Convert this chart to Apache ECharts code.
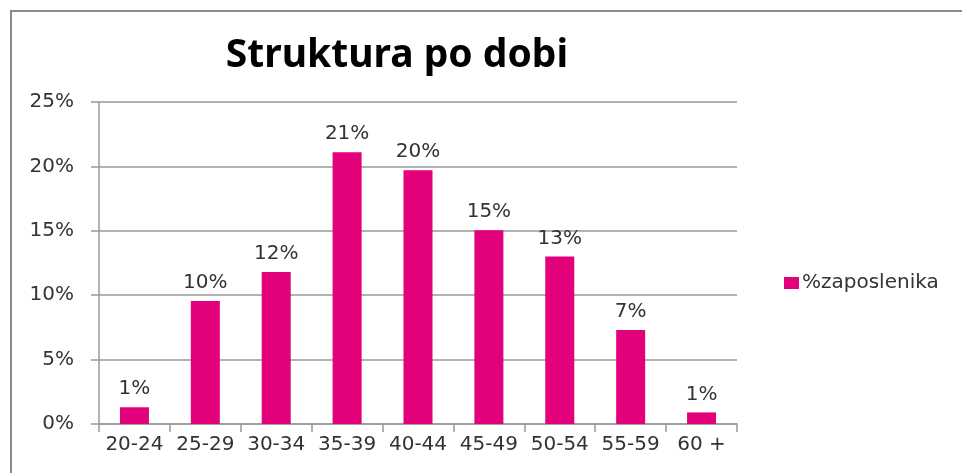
<!DOCTYPE html>
<html>
<head>
<meta charset="utf-8">
<script src="https://cdn.jsdelivr.net/npm/echarts@6/dist/echarts.min.js"></script>
<style>
  html, body { margin: 0; padding: 0; background: #fff; }
  #chart { width: 962px; height: 473px; }
</style>
</head>
<body>
<div id="chart"></div>
<script>
const categories = ['20-24', '25-29', '30-34', '35-39', '40-44', '45-49', '50-54', '55-59', '60 +'];
const shares = [1.3, 9.55, 11.8, 21.1, 19.7, 15.05, 13.0, 7.3, 0.9];
const seriesName = '%zaposlenika';
const title = 'Struktura po dobi';

const chart = echarts.init(document.getElementById('chart'));
const labelFont = 'DejaVu Sans, Verdana, sans-serif';

chart.setOption({
  animation: false,
  backgroundColor: '#fff',
  title: {
    text: title,
    left: 392,
    top: 31,
    textAlign: 'center',
    textStyle: { fontFamily: 'Noto Sans, sans-serif', fontWeight: 'bold', fontSize: 39, color: '#000' }
  },
  graphic: [{
    type: 'rect',
    shape: { x: 11, y: 11, width: 980, height: 500 },
    style: { fill: 'none', stroke: '#8a8a8a', lineWidth: 2 },
    silent: true
  }],
  legend: {
    left: 779,
    top: 268,
    icon: 'rect',
    itemWidth: 15,
    itemHeight: 12,
    itemGap: 6,
    data: [seriesName],
    textStyle: { fontFamily: labelFont, fontSize: 20, color: '#333', padding: [0, 0, 0, -2] }
  },
  grid: { left: 99, right: 225, top: 102, bottom: 49, outerBoundsMode: 'none' },
  xAxis: {
    type: 'category',
    data: categories,
    axisLine: { lineStyle: { color: '#999', width: 1.5 } },
    axisTick: { show: true, length: 8, lineStyle: { color: '#999', width: 1.5 } },
    axisLabel: { interval: 0, hideOverlap: false, fontFamily: labelFont, fontSize: 20, color: '#333', margin: 11 }
  },
  yAxis: {
    type: 'value',
    min: 0,
    max: 25,
    interval: 5,
    axisLine: { show: true, lineStyle: { color: '#999', width: 1.5 } },
    axisTick: { show: true, length: 8, lineStyle: { color: '#999', width: 1.5 } },
    splitLine: { lineStyle: { color: '#999', width: 1.5 } },
    axisLabel: { fontFamily: labelFont, fontSize: 20, color: '#333', margin: 25, formatter: '{value}%' }
  },
  series: [{
    name: seriesName,
    type: 'bar',
    data: shares,
    barWidth: 29,
    itemStyle: { color: '#e3007b' },
    label: {
      show: true,
      position: 'top',
      distance: 8,
      fontFamily: labelFont,
      fontSize: 20,
      color: '#333',
      formatter: p => Math.round(p.value) + '%'
    }
  }]
});
</script>
</body>
</html>
